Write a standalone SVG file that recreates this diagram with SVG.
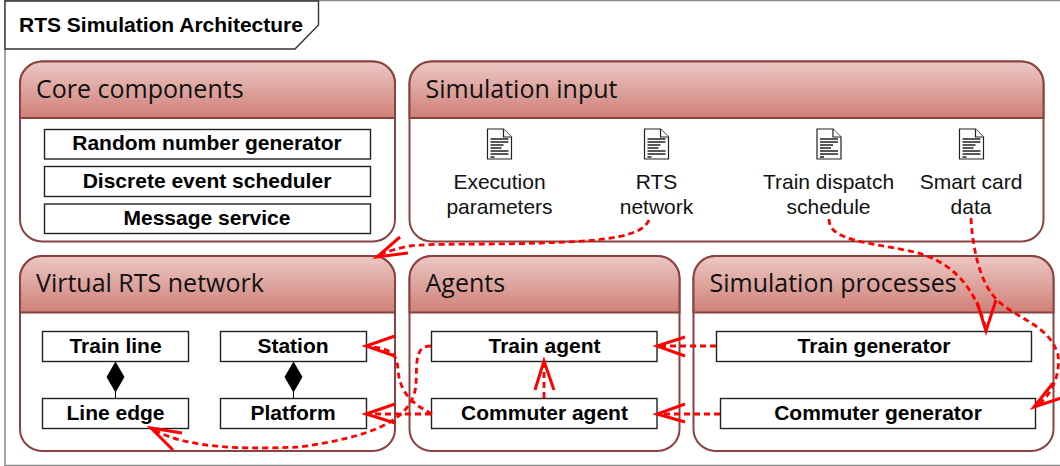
<svg xmlns="http://www.w3.org/2000/svg" width="1060" height="466" viewBox="0 0 1060 466">
<style>
.p{fill:#fff;stroke:#8a4340;stroke-width:2}
.h{fill:url(#hg);stroke:#8a4340;stroke-width:2}
.t{font:25px "Open Sans","Noto Sans",sans-serif;fill:#111}
.b{fill:#fff;stroke:#222;stroke-width:1.4}
.l{font:bold 21px "Liberation Sans",Arial,sans-serif;fill:#000;text-anchor:middle}
.d{font:21px "Liberation Sans",Arial,sans-serif;fill:#111;text-anchor:middle}
.c{fill:none;stroke:#f00;stroke-width:2.800;stroke-dasharray:6 4}
.a{fill:none;stroke:#f00;stroke-width:3}
.f{fill:#fff;stroke:#222;stroke-width:1.200}
.r{stroke:#222;stroke-width:1.400}
</style>
<defs>
<linearGradient id="hg" x1="0" y1="0" x2="0" y2="1"><stop offset="0" stop-color="#ecc8c5"/><stop offset="1" stop-color="#cf8077"/></linearGradient>
<g id="doc"><path class="f" d="M0 0H16L24 8V30H0Z"/><path class="f" d="M16 0V8H24"/><path class="r" d="M3 10H21M3 13H21M3 16H16M3 19H14M3 22H21M3 25H21M3 28H7"/></g>
</defs>
<rect x="5" y=".5" width="1056" height="465" fill="#fff" stroke="#888" stroke-width="1.500"/>
<path d="M5 1H318.500V25L295 49H5Z" fill="#fff" stroke="#333" stroke-width="1.400"/>
<text x="19" y="32" style="font:bold 21px 'Liberation Sans',Arial,sans-serif">RTS Simulation Architecture</text>
<g id="core"><rect class="p" x="20" y="61.500" width="375" height="180" rx="22"/><path class="h" d="M20 118V83.500a22 22 0 0 1 22-22H373a22 22 0 0 1 22 22V118Z"/><text class="t" x="36" y="98">Core components</text>
<rect class="b" x="44.500" y="129.500" width="326" height="29.500"/><text class="l" x="207" y="150">Random number generator</text>
<rect class="b" x="44.500" y="166.500" width="326" height="30"/><text class="l" x="207" y="188">Discrete event scheduler</text>
<rect class="b" x="44.500" y="204" width="326" height="29.500"/><text class="l" x="207" y="225">Message service</text></g>
<g id="input"><rect class="p" x="409.500" y="61.500" width="634" height="180" rx="22"/><path class="h" d="M409.500 118V83.500a22 22 0 0 1 22-22H1021.500a22 22 0 0 1 22 22V118Z"/><text class="t" x="425.500" y="98">Simulation input</text>
<use href="#doc" x="487.500" y="129"/><use href="#doc" x="644.500" y="129"/><use href="#doc" x="817" y="129"/><use href="#doc" x="959.500" y="129"/>
<text class="d" x="499.500" y="189">Execution</text><text class="d" x="499.500" y="214">parameters</text>
<text class="d" x="656.500" y="189">RTS</text><text class="d" x="656.500" y="214">network</text>
<text class="d" x="828.500" y="189">Train dispatch</text><text class="d" x="828.500" y="214">schedule</text>
<text class="d" x="971" y="189">Smart card</text><text class="d" x="971" y="214">data</text></g>
<g id="virtual"><rect class="p" x="20" y="256" width="375" height="195" rx="22"/><path class="h" d="M20 312.500V278a22 22 0 0 1 22-22H373a22 22 0 0 1 22 22V312.500Z"/><text class="t" x="36" y="292">Virtual RTS network</text>
<rect class="b" x="42.500" y="331.500" width="146" height="30"/><text class="l" x="115.500" y="353">Train line</text>
<rect class="b" x="42.500" y="398.500" width="146" height="30"/><text class="l" x="115.500" y="420">Line edge</text>
<rect class="b" x="220.500" y="331.500" width="146" height="30"/><text class="l" x="293" y="353">Station</text>
<rect class="b" x="220.500" y="398.500" width="146" height="30"/><text class="l" x="293" y="420">Platform</text>
<path d="M115.500 361.500L124.500 377L115.500 392.500L106.500 377Z"/><path d="M115.500 392V398" stroke="#000"/>
<path d="M293.500 361.500L302.500 377L293.500 392.500L284.500 377Z"/><path d="M293.500 392V398" stroke="#000"/></g>
<g id="agents"><rect class="p" x="409.500" y="256" width="270" height="195" rx="22"/><path class="h" d="M409.500 312.500V278a22 22 0 0 1 22-22H657.500a22 22 0 0 1 22 22V312.500Z"/><text class="t" x="425.500" y="292">Agents</text>
<rect class="b" x="431.500" y="331.500" width="225.500" height="30"/><text class="l" x="544.500" y="353">Train agent</text>
<rect class="b" x="431.500" y="398.500" width="225.500" height="30"/><text class="l" x="544.500" y="420">Commuter agent</text></g>
<g id="processes"><rect class="p" x="693.500" y="256" width="360" height="195" rx="22"/><path class="h" d="M693.500 312.500V278a22 22 0 0 1 22-22H1031.500a22 22 0 0 1 22 22V312.500Z"/><text class="t" x="709.500" y="292">Simulation processes</text>
<rect class="b" x="716.500" y="331.500" width="315" height="30"/><text class="l" x="874" y="353">Train generator</text>
<rect class="b" x="720.500" y="398.500" width="315" height="30"/><text class="l" x="878" y="420">Commuter generator</text></g>
<g id="connectors">
<path class="c" d="M649 220C642 236 610 241 540 243C490 245 430 243 410 246C398 248 385 252 378 256"/><path class="a" d="M400 237L377 257L408 253"/>
<path class="c" d="M829 219C829 240 865 242 905 250C950 258 975 285 986 330"/><path class="a" d="M977 302L986 331L996 300"/>
<path class="c" d="M971 218C973 255 982 285 997 300C1015 318 1050 325 1058 355C1061 375 1050 398 1035 407"/><path class="a" d="M1053 383L1034 407L1061 398"/>
<path class="c" d="M716 346H658"/><path class="a" d="M685 337L657 346L685 356"/>
<path class="c" d="M720 414H658"/><path class="a" d="M685 404L657 414L685 422"/>
<path class="c" d="M544 398V362"/><path class="a" d="M535 390L544 361L554 390"/>
<path class="c" d="M432 414C415 405 400 395 398 370C397 352 390 349 367 346"/><path class="a" d="M395 336L366 346L395 356"/>
<path class="c" d="M431 414H367"/><path class="a" d="M395 404L366 414L395 423"/>
<path class="c" d="M431 346C415 346 417 360 416 385C412 420 375 436 300 447C250 449 190 450 152 429"/><path class="a" d="M182 433L151 428L173 450"/>
</g>
</svg>
